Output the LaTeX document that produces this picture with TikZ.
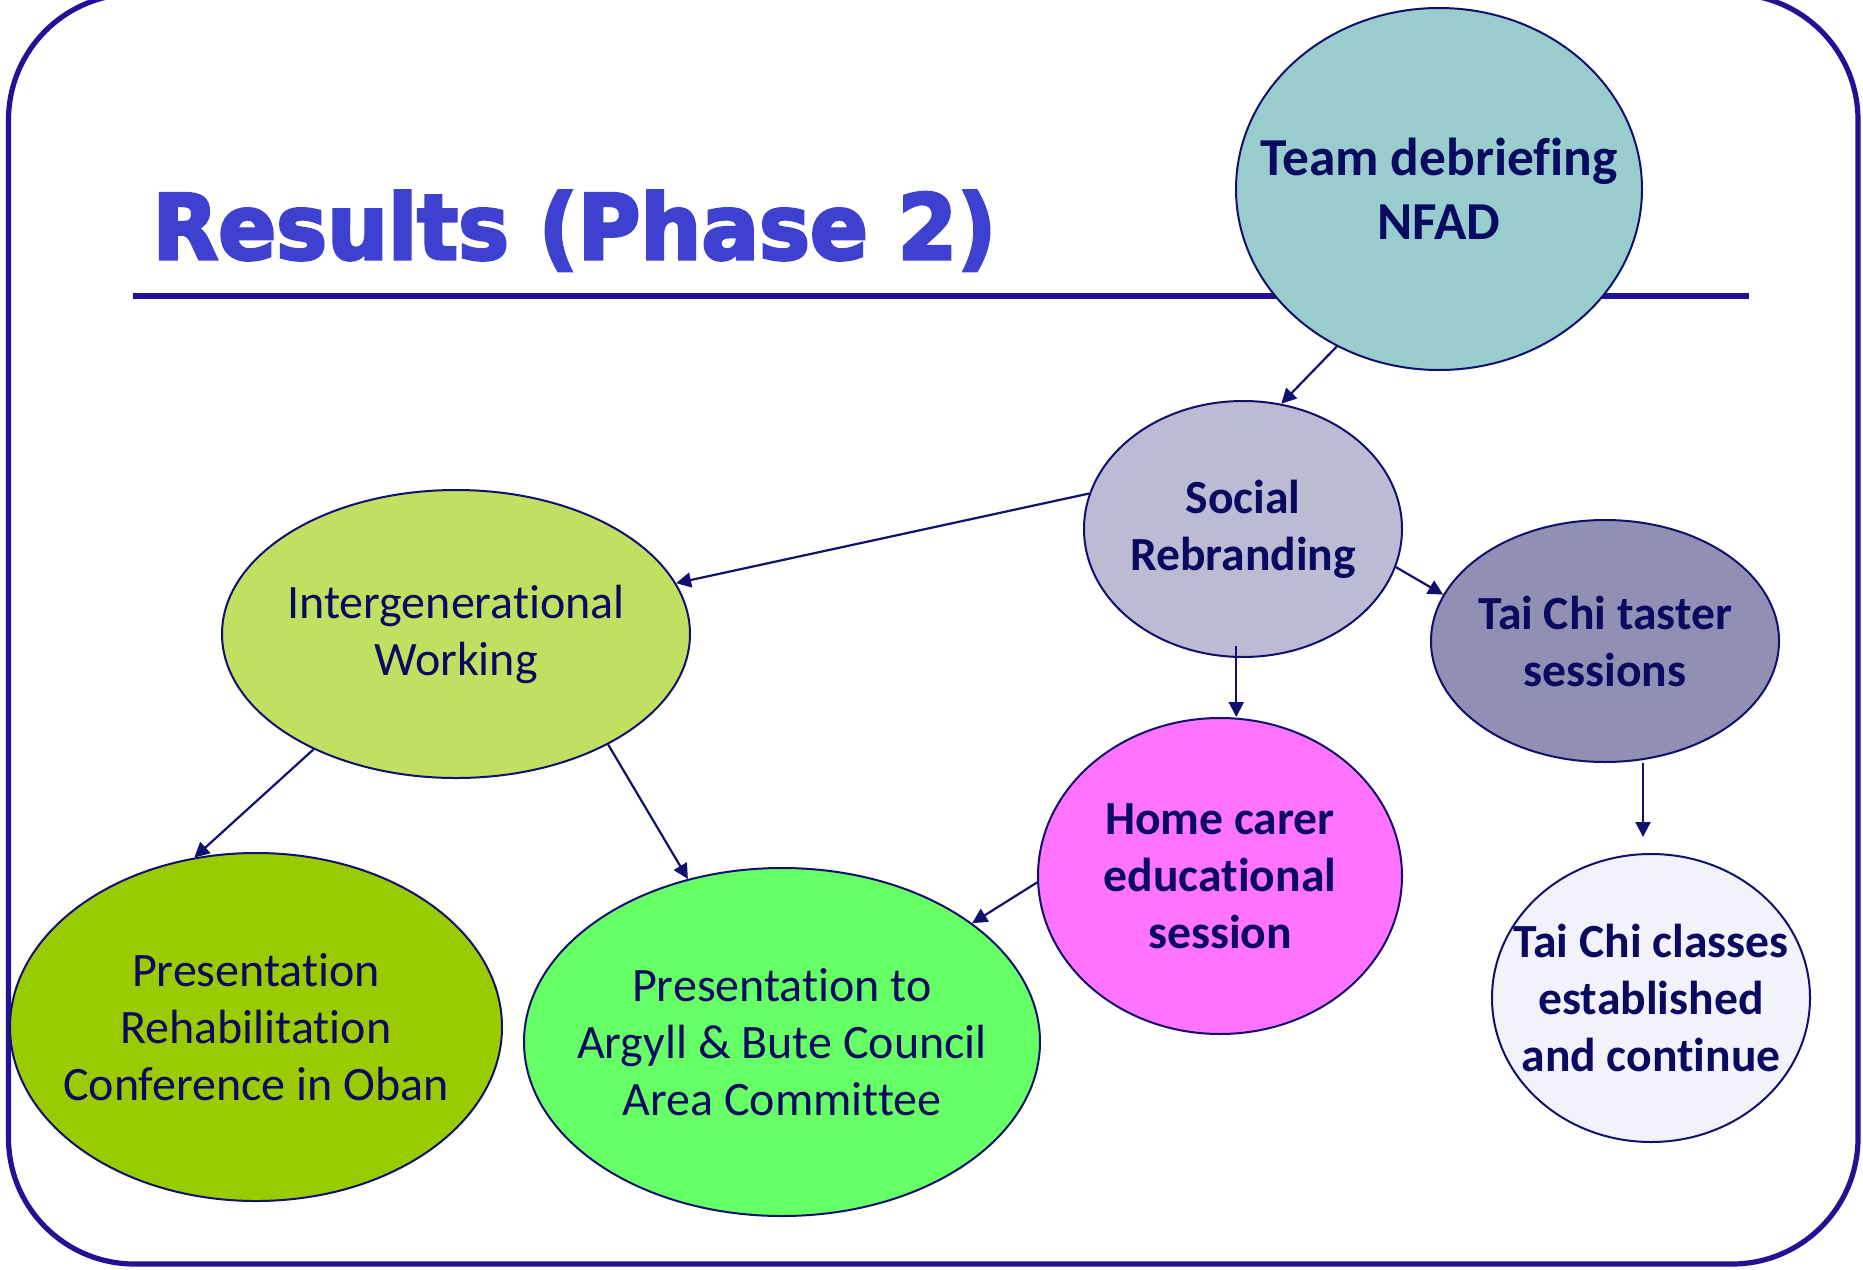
\documentclass[tikz,border=0pt]{standalone}
\usepackage{fontspec}
\setmainfont{Carlito}[Ligatures=NoCommon]
\newfontfamily\titlefont{DejaVu Sans Bold}[FakeBold=3.5]
\usetikzlibrary{shapes.geometric,arrows.meta}
\definecolor{frame}{RGB}{34,16,150}
\definecolor{titleblue}{RGB}{62,64,208}
\definecolor{navy}{RGB}{16,16,110}
\definecolor{txt}{RGB}{10,10,96}
\definecolor{cTeam}{RGB}{153,204,204}
\definecolor{cSocial}{RGB}{187,187,211}
\definecolor{cInter}{RGB}{192,224,98}
\definecolor{cTaster}{RGB}{144,144,180}
\definecolor{cHome}{RGB}{255,115,255}
\definecolor{cRehab}{RGB}{153,204,0}
\definecolor{cArgyll}{RGB}{102,255,102}
\definecolor{cClasses}{RGB}{242,242,250}
\tikzset{
  bubble/.style={ellipse, draw=navy, line width=1pt, inner sep=0pt},
  lbl/.style={align=center, text=txt, inner sep=0pt, font=\fontsize{24}{28.5}\selectfont},
  blbl/.style={lbl, font=\fontsize{23.8}{28.5}\selectfont\bfseries},
  bigblbl/.style={lbl, font=\fontsize{26.7}{32}\selectfont\bfseries},
  arr/.style={draw=navy, line width=1.1pt, -{Triangle[length=7.5pt,width=7.5pt]}},
}
\begin{document}
\begin{tikzpicture}[x=0.5pt,y=-0.5pt]
\useasboundingbox (0,0) rectangle (1863,1269);
\fill[white] (0,0) rectangle (1863,1269);
% frame
\draw[frame, line width=2.6pt, rounded corners=63pt] (8.5,-6) rectangle (1858,1264);
% title
\node[anchor=base west, inner sep=0pt, text=titleblue] (title) at (152,259)
  {\titlefont\fontsize{45}{50}\selectfont\scalebox{0.95}[1]{Results (Phase 2)}};
\coordinate (ruleL) at (133,296);
\coordinate (ruleR) at (1749,296);
\draw[frame, line width=3pt] (ruleL) -- (ruleR);
% bubbles
\node[bubble, fill=cTeam, minimum width=203pt, minimum height=181pt,
  label={[bigblbl]center:Team debriefing\\NFAD}] (team) at (1439,189) {};
\node[bubble, fill=cSocial, minimum width=159pt, minimum height=128pt,
  label={[blbl]center:Social\\Rebranding}] (social) at (1243,529) {};
\node[bubble, fill=cInter, minimum width=234pt, minimum height=144pt,
  label={[lbl]center:Intergenerational\\Working}] (inter) at (456,634) {};
\node[bubble, fill=cTaster, minimum width=174pt, minimum height=121pt,
  label={[blbl]center:Tai Chi taster\\sessions}] (taster) at (1605,641) {};
\node[bubble, fill=cHome, minimum width=182pt, minimum height=158pt,
  label={[blbl]center:Home carer\\educational\\session}] (home) at (1220,876) {};
\node[bubble, fill=cRehab, minimum width=246pt, minimum height=174pt,
  label={[lbl]center:Presentation\\Rehabilitation\\Conference in Oban}] (rehab) at (256,1027) {};
\node[bubble, fill=cArgyll, minimum width=258pt, minimum height=174pt,
  label={[lbl]center:Presentation to\\Argyll \& Bute Council\\Area Committee}] (argyll) at (782,1042) {};
\node[bubble, fill=cClasses, minimum width=159pt, minimum height=144pt,
  label={[blbl]center:Tai Chi classes\\established\\and continue}] (classes) at (1651,998) {};
% connectors
\draw[arr] (team.237) -- (social.73);
\draw[arr] (social.167) -- (inter.13);
\draw[arr] (social.-14) -- (taster.164);
\draw[arr] ([yshift=6pt]social.-93) -- (social.-93 |- home.north);
\draw[arr] (inter.219) -- (rehab.110);
\draw[arr] (inter.-36) -- (argyll.120);
\draw[arr] (home.182) -- (argyll.32);
\draw[arr] ([xshift=19pt]taster.south) -- ([xshift=-4pt,yshift=8pt]classes.north);
\end{tikzpicture}
\end{document}
